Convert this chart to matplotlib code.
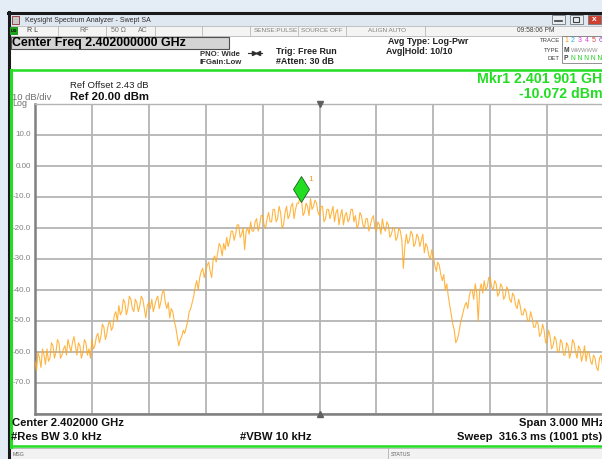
import numpy as np
import matplotlib
matplotlib.use("Agg")
import matplotlib.pyplot as plt
from matplotlib.patches import Rectangle

plt.rcParams['font.family'] = ['Liberation Sans', 'DejaVu Sans']

# sweep settings
center_ghz = 2.402
span_mhz = 3.0
ref_level = 20.0
db_per_div = 10.0
ytick_labels = ["10.0", "0.00", "-10.0", "-20.0", "-30.0", "-40.0", "-50.0", "-60.0", "-70.0"]
ytick_values = [10, 0, -10, -20, -30, -40, -50, -60, -70]

# marker 1 readout
mkr_freq_ghz = 2.401901
mkr_level = -10.072

# trace 1 (averaged, dBm), read across the full span
trace_dbm = [
    -63, -66, -60, -62, -65, -59, -61, -64, -59, -63, -62, -57, -58, -62, -60, -56, -57, -62, -61, -59,
    -58, -61, -56, -58, -60, -57, -55, -58, -61, -57, -58, -62, -60, -56, -57, -61, -59, -62, -56, -59,
    -58, -55, -54, -57, -55, -51, -52, -56, -54, -51, -50, -53, -52, -48, -47, -50, -45, -48, -47, -43,
    -44, -48, -46, -42, -43, -46, -47, -43, -44, -47, -45, -42, -43, -46, -49, -45, -44, -46, -43, -47,
    -45, -43, -42, -46, -44, -41, -40, -44, -46, -44, -49, -46, -47, -50, -52, -55, -58, -56, -55, -53,
    -54, -52, -50, -47, -46, -44, -42, -39, -37, -40, -36, -34, -33, -36, -34, -32, -31, -34, -36, -30,
    -29, -31, -28, -25, -26, -29, -25, -27, -23, -26, -24, -21, -21, -24, -22, -19, -19, -23, -22, -20,
    -27, -21, -20, -22, -18, -21, -21, -18, -17, -21, -19, -16, -16, -19, -20, -17, -15, -18, -18, -14,
    -14, -18, -17, -13, -15, -20, -19, -15, -13, -17, -16, -13, -12, -17, -14, -12, -12, -10.072, -11, -16,
    -15, -12, -13, -16, -10.5, -14, -13, -11, -12, -15, -16, -13, -13, -18, -17, -14, -14, -17, -15, -13,
    -18, -15, -14, -19, -16, -14, -19, -16, -15, -18, -17, -14, -14, -18, -16, -20, -19, -15, -16, -19,
    -20, -17, -17, -21, -19, -17, -16, -20, -21, -18, -19, -22, -17, -20, -21, -18, -19, -23, -22, -20,
    -20, -24, -23, -20, -21, -24, -33, -26, -22, -25, -24, -21, -22, -26, -25, -22, -23, -26, -24, -22,
    -28, -25, -26, -29, -30, -27, -29, -32, -34, -31, -32, -35, -37, -35, -40, -38, -42, -45, -48, -51,
    -53, -57, -56, -54, -51, -49, -47, -45, -44, -46, -42, -40, -40, -43, -38, -41, -50, -40, -38, -41,
    -37, -40, -39, -36, -36, -39, -40, -37, -38, -42, -41, -38, -39, -43, -42, -39, -40, -43, -44, -41,
    -42, -45, -46, -43, -45, -48, -48, -46, -47, -50, -50, -47, -49, -52, -52, -50, -51, -55, -54, -51,
    -53, -57, -57, -53, -55, -59, -58, -55, -56, -60, -60, -56, -57, -61, -61, -57, -58, -62, -60, -56,
    -57, -60, -62, -58, -59, -63, -61, -58, -63, -60, -60, -63, -64, -61, -62, -65, -66, -62, -61, -64,
    -63,
]

W, H = 602, 459
fig = plt.figure(figsize=(W / 100, H / 100), dpi=100)

# screen chrome drawn in pixel coordinates
bg = fig.add_axes([0, 0, 1, 1])
bg.set_xlim(0, W)
bg.set_ylim(H, 0)
bg.axis("off")

def rect(x, y, w, h, fc, ec="none", lw=0.8, z=1):
    bg.add_patch(Rectangle((x, y), w, h, facecolor=fc, edgecolor=ec, linewidth=lw, zorder=z))

def txt(x, y, s, size=6, color="black", weight="normal", ha="left", va="center", **kw):
    bg.text(x, y, s, fontsize=size, color=color, fontweight=weight, ha=ha, va=va, **kw)

# desktop behind the window
rect(0, 0, W, H, "#e4edf6")
# window body
rect(8, 12, W - 8, H - 12, "white", z=1)
bg.plot([8, W], [13, 13], color="#1a1a1a", lw=2.2, zorder=3)
bg.plot([9, 9], [12, H], color="#1a1a1a", lw=2.2, zorder=3)

# title bar
rect(10, 14, W - 10, 12, "#dfe7f0", z=2)
rect(12, 16, 7, 8, "#c8c8c8", ec="#903030", lw=0.6, z=3)
txt(25, 20, "Keysight Spectrum Analyzer - Swept SA", size=5.0, color="#303030")
for bx, col in [(552, "#e8edf2"), (570, "#e8edf2"), (588, "#d04030")]:
    rect(bx, 15, 13, 9, col, ec="#707880", lw=0.6, z=3)
bg.plot([555, 562], [21, 21], color="#404040", lw=1.2, zorder=4)
rect(573, 17, 6, 5, "none", ec="#404040", lw=0.8, z=4)
txt(594.5, 19.5, "x", size=6, color="white", weight="bold", ha="center")

# settings row
rect(10, 26, W - 10, 10, "#f4f4f4", ec="#b8b8b8", lw=0.6, z=2)
rect(10, 27, 8, 8, "#20a020", z=3)
txt(11, 31, "LXI", size=3, color="black", weight="bold")
for sx in [58, 106, 155, 202, 250, 298, 346, 425]:
    bg.plot([sx, sx], [26, 36], color="#b8b8b8", lw=0.6, zorder=3)
txt(27, 31, "R L", size=5, color="#404040")
txt(79, 31, "RF", size=5, color="#707070")
txt(111, 31, "50 Ω", size=5, color="#707070")
txt(138, 31, "AC", size=5, color="#707070")
txt(254, 31, "SENSE:PULSE", size=4.6, color="#808080")
txt(301, 31, "SOURCE OFF", size=4.6, color="#808080")
txt(368, 31, "ALIGN AUTO", size=4.6, color="#808080")
txt(517, 31, "09:58:06 PM", size=4.8, color="#404040")

# info area
rect(11, 37, 218, 12, "#d4d4d4", ec="#505050", lw=0.8, z=3)
txt(12, 43, "Center Freq 2.402000000 GHz", size=8.9, weight="bold")
txt(200, 54, "PNO: Wide", size=5.6, weight="bold", color="#303030")
txt(200, 63, "IFGain:Low", size=5.6, weight="bold", color="#303030")
bg.plot([248, 262], [53, 53], color="#303030", lw=0.8, zorder=3)
bg.plot([253.5], [53], marker=">", ms=3, color="#303030", zorder=3)
bg.plot([257.5], [53], marker="<", ms=3, color="#303030", zorder=3)
txt(276, 51, "Trig: Free Run", size=6.4, weight="bold", color="#202020")
txt(276, 62, "#Atten: 30 dB", size=6.4, weight="bold", color="#202020")
txt(388, 42, "Avg Type: Log-Pwr", size=6.4, weight="bold", color="#202020")
txt(386, 52, "Avg|Hold: 10/10", size=6.4, weight="bold", color="#202020")
txt(560, 41, "TRACE", size=4.3, color="#404040", ha="right")
txt(560, 50, "TYPE", size=4.3, color="#404040", ha="right")
txt(560, 59, "DET", size=4.3, color="#404040", ha="right")
rect(562, 36, 44, 27, "none", ec="#808080", lw=0.6, z=3)
for k, col in enumerate(["#f0a020", "#20b0e0", "#e040e0", "#e040e0", "#e04040", "#a040e0"]):
    txt(564 + k * 7, 41, str(k + 1), size=5, color=col)
txt(564, 50, "M", size=4.8, color="#404040", weight="bold")
txt(571, 50, "WWWWW", size=4.2, color="#909090")
txt(564, 59, "P", size=4.8, color="#404040", weight="bold")
txt(571, 59, "N N N N N", size=4.8, color="#20d020")

# green measurement frame
bg.plot([11, W], [70, 70], color="#22dd22", lw=1.8, zorder=3)
bg.plot([11, 11], [70, 447], color="#22dd22", lw=2.2, zorder=3)
bg.plot([11, W], [446, 446], color="#22dd22", lw=1.8, zorder=3)

txt(70, 85, "Ref Offset 2.43 dB", size=6.8, color="#202020")
txt(70, 97, "Ref 20.00 dBm", size=8.2, weight="bold", color="#101010")
txt(12, 97, "10 dB/div", size=6.8, color="#707070")
txt(12, 103.5, "Log", size=6.4, color="#707070")

txt(609, 79, "Mkr1 2.401 901 GHz", size=10.2, weight="bold", color="#22dd22", ha="right")
txt(603, 94, f"{mkr_level:.3f} dBm", size=10.2, weight="bold", color="#22dd22", ha="right")

# footer
txt(12, 423, f"Center {center_ghz:.6f} GHz", size=8.1, weight="bold", color="#101010")
txt(11, 437, "#Res BW 3.0 kHz", size=8.1, weight="bold", color="#101010")
txt(240, 437, "#VBW 10 kHz", size=8.1, weight="bold", color="#101010")
txt(604, 423, f"Span {span_mhz:.3f} MHz", size=8.1, weight="bold", color="#101010", ha="right")
txt(457, 437, "Sweep  316.3 ms (1001 pts)", size=8.1, weight="bold", color="#101010")
rect(10, 448, W - 10, 11, "#f2f2f2", ec="#b0b0b0", lw=0.6, z=2)
bg.plot([388, 388], [448, H], color="#b0b0b0", lw=0.6, zorder=3)
txt(13, 455, "MSG", size=3.8, color="#606060")
txt(391, 455, "STATUS", size=3.8, color="#606060")

# trace display
x0, x1, y0, y1 = 35, 604, 104, 414
ax = fig.add_axes([x0 / W, 1 - y1 / H, (x1 - x0) / W, (y1 - y0) / H])
ax.set_facecolor("white")
start = center_ghz - span_mhz / 2000
stop = center_ghz + span_mhz / 2000
freqs = np.linspace(start, stop, len(trace_dbm))
ax.set_xlim(start, stop)
ax.set_ylim(ref_level - 10 * db_per_div, ref_level)
ax.set_xticks(np.linspace(start, stop, 11))
ax.set_yticks(np.arange(ref_level - 10 * db_per_div, ref_level + 1, db_per_div))
ax.grid(True, color="#b4b4b4", lw=1.3)
ax.tick_params(length=0, labelbottom=False, labelleft=False)
for side in ["left", "bottom"]:
    ax.spines[side].set_color("#808080")
    ax.spines[side].set_linewidth(1.8)
for side in ["top", "right"]:
    ax.spines[side].set_color("#b4b4b4")
    ax.spines[side].set_linewidth(1.0)

ax.plot(freqs, trace_dbm, color="#ffa820", lw=0.8, alpha=0.85, zorder=3)

# marker 1
ax.plot(mkr_freq_ghz, mkr_level + 2.6, marker="d", ms=13, color="#22dd22",
        mec="#206020", mew=0.6, zorder=5)
ax.text(mkr_freq_ghz + 0.00004, mkr_level + 5.2, "1", fontsize=6, color="#f0a020")

# center reference ticks
for yy, mk in [(ref_level, "v"), (ref_level - 10 * db_per_div, "^")]:
    ax.plot(center_ghz, yy, marker=mk, ms=4.5, color="#606060", clip_on=False, zorder=6)

for lab, val in zip(ytick_labels, ytick_values):
    bg.text(31, y0 + (ref_level - val) / db_per_div * 31, lab, fontsize=5.8,
            color="#808080", ha="right", va="center")

fig.savefig("out.png", dpi=100)
